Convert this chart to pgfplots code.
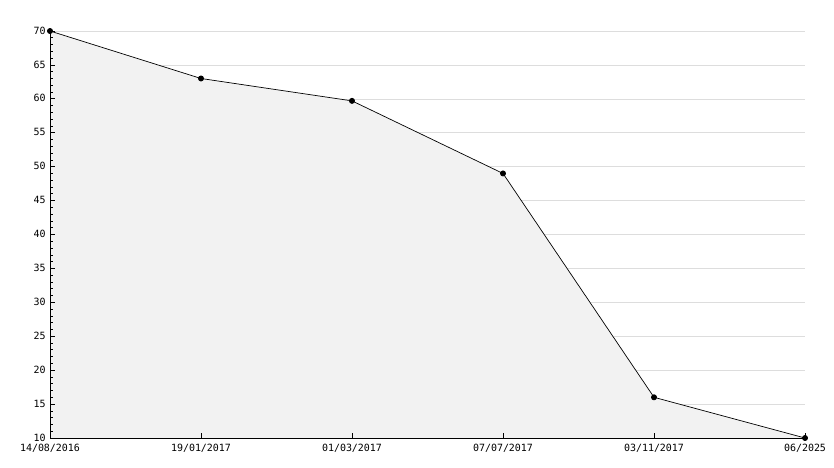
\documentclass[border=0pt]{standalone}
\usepackage{pgfplots}
\pgfplotsset{compat=1.18}
\usepackage{fontspec}
\setmainfont{DejaVu Sans Mono}
\definecolor{fillgray}{HTML}{F2F2F2}
\definecolor{gridgray}{HTML}{DDDDDD}
\begin{document}
\fontsize{9.8}{11}\selectfont
\begin{tikzpicture}
\path[use as bounding box] (0,0) rectangle (834bp,468bp);
\begin{axis}[
  axis on top,
  at={(50bp,30bp)}, anchor=south west,
  scale only axis, width=755bp, height=407bp,
  xmin=0, xmax=5, ymin=10, ymax=70,
  axis x line*=bottom, axis y line*=left,
  axis line style={black, line width=0.8pt},
  xtick={0,1,2,3,4,5},
  xticklabels={14/08/2016,19/01/2017,01/03/2017,07/07/2017,03/11/2017,06/2025},
  ytick={10,15,...,70},
  minor y tick num=4,
  tick align=inside,
  major tick length=4.5bp, minor tick length=3bp,
  tick style={black, line width=0.7pt},
  xticklabel style={yshift=-3bp},
  yticklabel style={xshift=-1bp, yshift=0.5bp},
  tick label style={font=\fontsize{10}{11}\selectfont},
  /pgf/number format/assume math mode=true,
  clip=false,
]
\pgfplotsinvokeforeach{15,20,...,70}{
  \addplot[gridgray, line width=0.6pt, forget plot] coordinates {(0,#1) (5,#1)};
}
\addplot[fill=fillgray, draw=none] coordinates {(0,70) (1,63) (2,59.7) (3,49) (4,16) (5,10)} \closedcycle;
\addplot[black, line width=0.7pt, mark=*, mark size=2.6bp] coordinates {(0,70) (1,63) (2,59.7) (3,49) (4,16) (5,10)};
\end{axis}
\end{tikzpicture}
\end{document}
